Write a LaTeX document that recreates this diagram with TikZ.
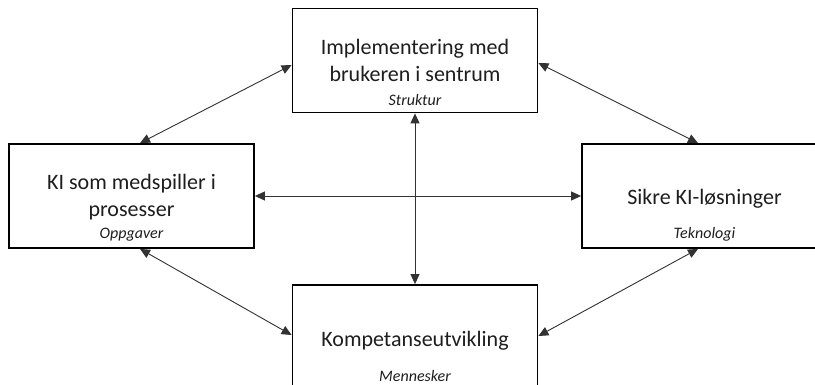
\documentclass[tikz,border=0pt]{standalone}
\usepackage{fontspec}
\setmainfont{Carlito}
\usetikzlibrary{arrows.meta,calc}
\definecolor{txt}{RGB}{30,30,30}
\definecolor{linkc}{RGB}{50,50,50}
\begin{document}
\begin{tikzpicture}[x=1pt,y=-1pt,
  box/.style={draw=black,line width=1.8pt,minimum width=245pt,minimum height=104pt,inner sep=0pt},
  main/.style={font=\fontsize{22}{27}\selectfont,text=txt,anchor=base,inner sep=0pt},
  sub/.style={font=\fontsize{16}{19}\selectfont\itshape,text=txt,anchor=base,inner sep=0pt},
  link/.style={draw=linkc,line width=0.9pt,{Triangle[length=10pt,width=9pt]}-{Triangle[length=10pt,width=9pt]}}]
\useasboundingbox (0,0) rectangle (815,385);
\fill[white] (0,0) rectangle (815,385);
\clip (0,0) rectangle (815,385);
\node[box] (top) at (415,60.5) {};
\node[box] (left) at (131.5,196) {};
\node[box] (right) at (704.5,196) {};
\node[box] (bot) at (415,337) {};
\node[main] (t1) at (415,55) {Implementering med};
\node[main] (t2) at (415,82) {brukeren i sentrum};
\node[sub] (t3) at (415,106) {Struktur};
\node[main] (l1) at (131.5,190) {KI som medspiller i};
\node[main] (l2) at (131.5,217) {prosesser};
\node[sub] (l3) at (131.5,239) {Oppgaver};
\node[main] (r1) at (704.5,205) {Sikre KI-løsninger};
\node[sub] (r2) at (704.5,239) {Teknologi};
\node[main] (b1) at (415,346) {Kompetanseutvikling};
\node[sub] (b2) at (415,381.5) {Mennesker};
\draw[link] ([xshift=8.5pt]left.north) -- ([yshift=-4.5pt]top.west);
\draw[link] ([yshift=-2.5pt]top.east) -- ([xshift=-6.5pt]right.north);
\draw[link] ([xshift=8.5pt]left.south) -- ([yshift=2pt]bot.west);
\draw[link] ([yshift=1pt]bot.east) -- ([xshift=-6.5pt]right.south);
\draw[link] (left.east) -- (right.west);
\draw[link] (top.south) -- (bot.north);
\end{tikzpicture}
\end{document}
